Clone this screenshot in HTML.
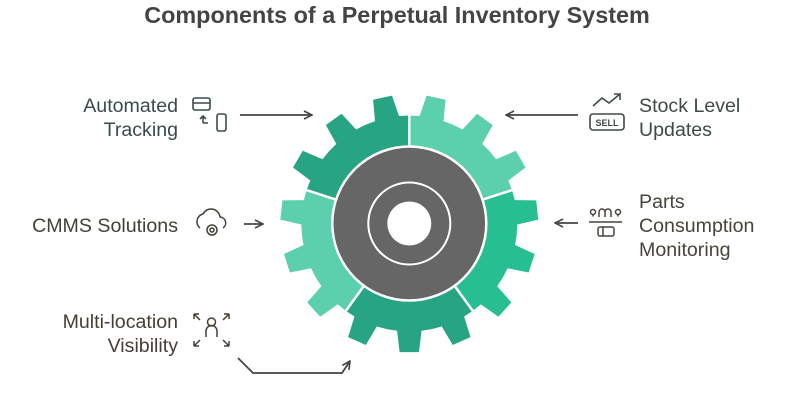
<!DOCTYPE html>
<html><head><meta charset="utf-8"><style>
html,body{margin:0;padding:0;background:#fff;width:794px;height:410px;overflow:hidden}
svg{display:block}
text{font-family:"Liberation Sans",sans-serif}
</style></head><body>
<svg id="s" width="794" height="410" viewBox="0 0 794 410" xmlns="http://www.w3.org/2000/svg">
<text x="397" y="23" text-anchor="middle" font-size="23.4" font-weight="bold" fill="#444">Components of a Perpetual Inventory System</text>
<defs><clipPath id="gc"><path id="gp"/></clipPath>
<marker id="ah" viewBox="0 0 10 10" refX="9" refY="5" markerWidth="10" markerHeight="10" markerUnits="userSpaceOnUse" orient="auto"><path d="M1,1 L9,5 L1,9" fill="none" stroke="#444" stroke-width="1.6"/></marker></defs>
<g id="wedges" clip-path="url(#gc)"></g>
<g id="lines"></g>
<circle cx="409.3" cy="223.5" r="77" fill="#666" stroke="#fff" stroke-width="2.5"/>
<circle cx="409.3" cy="223.5" r="41" fill="none" stroke="#fff" stroke-width="2"/>
<circle cx="409.3" cy="223.5" r="22" fill="#fff"/>
<g stroke="#444" stroke-width="1.8" fill="none" marker-end="url(#ah)">
<line x1="240" y1="115" x2="312" y2="115"/>
<line x1="578" y1="115" x2="506" y2="115"/>
<line x1="244" y1="224" x2="263" y2="224"/>
<line x1="578" y1="223" x2="555" y2="223"/>
<polyline points="238,358 253,373 342,373 350,361"/>
</g>
<g font-size="19.6" text-anchor="end">
<text x="178" y="112" fill="#3b4a4c">Automated</text>
<text x="178" y="136" fill="#3b4a4c">Tracking</text>
<text x="178" y="232" fill="#3f4236">CMMS Solutions</text>
<text x="178" y="328" fill="#463e36">Multi-location</text>
<text x="178" y="352" fill="#463e36">Visibility</text>
</g>
<g font-size="19.6">
<text x="639" y="112" fill="#3e4a44">Stock Level</text>
<text x="639" y="136" fill="#3e4a44">Updates</text>
<text x="639" y="208" fill="#47443a">Parts</text>
<text x="639" y="232" fill="#47443a">Consumption</text>
<text x="639" y="256" fill="#47443a">Monitoring</text>
</g>
<g fill="none" stroke="#3b4a4c" stroke-width="1.6">
<rect x="193" y="98" width="17" height="12" rx="2"/><line x1="193" y1="103" x2="210" y2="103"/>
<rect x="217" y="114" width="9" height="17" rx="2"/>
<path d="M203,123 v-6 M200,119 l3,-3 3,3 M203,123 h5"/>
</g>
<g fill="none" stroke="#3f4236" stroke-width="1.5">
<path d="M200,228 a8,8 0 0 1 3,-14 a9,9 0 0 1 17,3 a6,6 0 0 1 3,11"/>
<circle cx="212" cy="230" r="5"/><circle cx="212" cy="230" r="2"/>
</g>
<g fill="none" stroke="#463e36" stroke-width="1.5">
<path d="M194,314 h5 M194,314 v5 M194,314 l6,6 M229,314 h-5 M229,314 v5 M229,314 l-6,6 M194,346 h5 M194,346 v-5 M194,346 l6,-6 M229,346 h-5 M229,346 v-5 M229,346 l-6,-6"/>
<circle cx="211.5" cy="322" r="4"/><path d="M206,337 v-6 a5,5 0 0 1 11,0 v6"/>
</g>
<g fill="none" stroke="#3e4a44" stroke-width="1.6">
<rect x="590" y="114" width="34" height="16" rx="3"/>
<path d="M593,106 l9,-8 7,5 11,-9 M614,94 h6 v6"/>
<text x="607" y="126" font-size="9" font-weight="bold" fill="#3e4a44" stroke="none" text-anchor="middle">SELL</text>
</g>
<g fill="none" stroke="#47443a" stroke-width="1.5">
<circle cx="593" cy="212" r="2.5"/><path d="M593,214.5 v2"/><path d="M599,217 v-5 a3,3 0 0 1 6,0 v5 M605,212 a3,3 0 0 1 6,0 v5"/>
<circle cx="618" cy="212" r="2.5"/><path d="M618,214.5 v2"/>
<line x1="589" y1="222" x2="622" y2="222"/>
<rect x="598" y="227" width="16" height="9" rx="2"/><line x1="603" y1="227" x2="603" y2="236"/>
</g>
</svg>
<script>
var cx=409.3,cy=223.5,R=129,r=108,ns="http://www.w3.org/2000/svg";
function P(a,rad){a=a*Math.PI/180;return (cx+rad*Math.cos(a)).toFixed(2)+","+(cy+rad*Math.sin(a)).toFixed(2);}
var d="";
for(var k=0;k<15;k++){var c=-102+24*k;
d+=(k?"L":"M")+P(c-12,r)+" L"+P(c-6.5,r)+" L"+P(c-4.3,R)+" L"+P(c+4.3,R)+" L"+P(c+6.5,r)+" L"+P(c+12,r)+" ";}
d+="Z";document.getElementById("gp").setAttribute("d",d);
var cols=["#5ccfad","#27be92","#26a483","#5ccfad","#26a483"];
var w=document.getElementById("wedges"),l=document.getElementById("lines");
for(var i=0;i<5;i++){var a0=-90+72*i,a1=a0+72;
var p=document.createElementNS(ns,"path");
p.setAttribute("d","M"+cx+","+cy+" L"+P(a0,160)+" L"+P((a0+a1)/2,170)+" L"+P(a1,160)+" Z");
p.setAttribute("fill",cols[i]);w.appendChild(p);
var ln=document.createElementNS(ns,"line");var s=P(a0,70).split(","),e=P(a0,140).split(",");
ln.setAttribute("x1",s[0]);ln.setAttribute("y1",s[1]);ln.setAttribute("x2",e[0]);ln.setAttribute("y2",e[1]);
ln.setAttribute("stroke","#fff");ln.setAttribute("stroke-width","2.5");l.appendChild(ln);}
</script>
</body></html>
